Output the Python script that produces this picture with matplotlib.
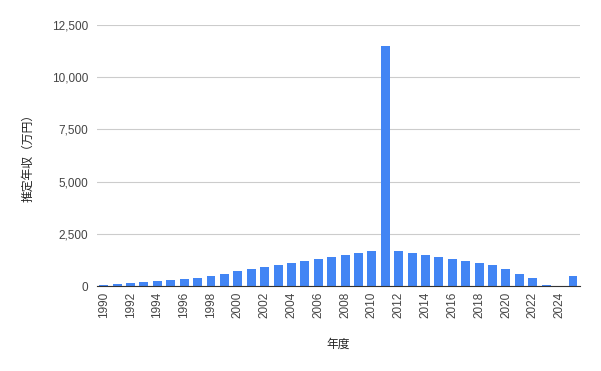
import matplotlib.pyplot as plt
import numpy as np

plt.rcParams['font.family'] = ['Liberation Sans', 'Noto Sans CJK JP', 'DejaVu Sans']

# data
years = list(range(1990, 2026))
income = [50, 100, 150, 200, 250, 300, 350, 400, 500, 600,
          700, 800, 900, 1000, 1100, 1200, 1300, 1400, 1500, 1600,
          1700, 11500, 1700, 1600, 1500, 1400, 1300, 1200, 1100, 1000,
          800, 600, 400, 50, 0, 500]
y_ticks = [0, 2500, 5000, 7500, 10000, 12500]


def main():
    fig = plt.figure(figsize=(6.01, 3.71), dpi=100)
    ax = fig.add_axes([0.161, 0.229, 0.804, 0.704])

    x = np.arange(len(years))
    ax.bar(x, income, width=0.67, color="#4285F4", zorder=3)

    ax.set_xlim(-0.52, len(years) - 0.48)
    ax.set_ylim(0, 12500)
    ax.set_yticks(y_ticks)
    ax.set_yticklabels([f"{v:,}" for v in y_ticks])
    ax.set_xticks(x[::2])
    ax.set_xticklabels([str(y) for y in years[::2]], rotation=90)

    ax.grid(axis="y", color="#cccccc", linewidth=0.8, zorder=0)
    for side in ["top", "right", "left"]:
        ax.spines[side].set_visible(False)
    ax.spines["bottom"].set_color("#333333")
    ax.spines["bottom"].set_zorder(4)
    ax.tick_params(axis="both", length=0, labelsize=8.5, labelcolor="#444444")
    ax.tick_params(axis="y", pad=6)
    ax.tick_params(axis="x", pad=4)

    ax.set_xlabel("年度", fontsize=8.5, color="#222222", labelpad=15)
    ax.set_ylabel("推定年収（万円）", fontsize=8.5, color="#222222", labelpad=13)

    fig.savefig("out.png", dpi=100)


if __name__ == "__main__":
    main()
